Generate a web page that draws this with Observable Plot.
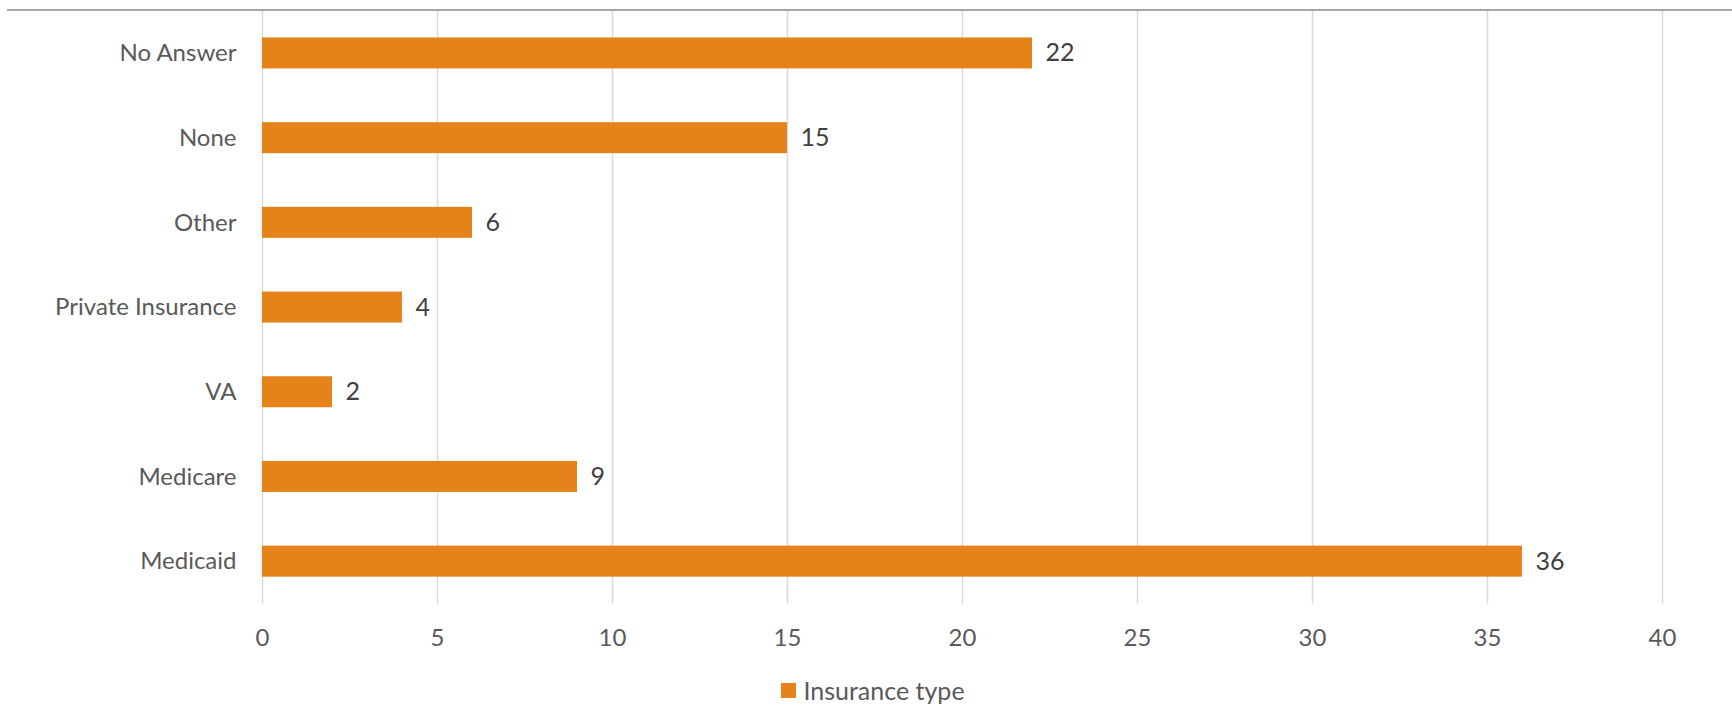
<!DOCTYPE html>
<html>
<head>
<meta charset="utf-8">
<script src="https://cdn.jsdelivr.net/npm/d3@7"></script>
<script src="https://cdn.jsdelivr.net/npm/@observablehq/plot@0.6"></script>
<style>
  html, body { margin: 0; padding: 0; background: #fff; }
  #wrap { position: relative; width: 1732px; height: 712px; font-family: Lato, "Noto Sans", sans-serif; }
  #topline { position: absolute; left: 7px; right: 0; top: 9px; height: 0; border-top: 2px solid #a6a6a6; }
  #legend { display: flex; justify-content: center; align-items: center; height: 50px; padding-left: 14px; box-sizing: border-box; width: 1732px;
            font-size: 25px; color: #595959; }
  #legend .sw { width: 15px; height: 15px; margin-right: 7px; }
</style>
</head>
<body>
<div id="wrap">
  <div id="chart"></div>
  <div id="legend"></div>
  <div id="topline"></div>
</div>
<script>
const categories = ["No Answer", "None", "Other", "Private Insurance", "VA", "Medicare", "Medicaid"];
const values = [22, 15, 6, 4, 2, 9, 36];
const xTicks = [0, 5, 10, 15, 20, 25, 30, 35, 40];
const seriesName = "Insurance type";
const barColor = "#E5831A";

const data = categories.map((c, i) => ({category: c, value: values[i]}));

const chart = Plot.plot({
  width: 1732,
  height: 665,
  marginLeft: 262,
  marginRight: 70,
  marginTop: 10.6,
  marginBottom: 61.5,
  style: {fontFamily: "Lato, 'Noto Sans', sans-serif", fontSize: "24px", color: "#595959", background: "#fff"},
  x: {domain: [0, 40], ticks: xTicks, label: null, grid: false},
  y: {domain: categories, paddingInner: 0.634, paddingOuter: 0.317, round: false, label: null},
  marks: [
    Plot.gridX(xTicks, {stroke: "#d9d9d9", strokeOpacity: 1, strokeWidth: 1.5}),
    Plot.barX(data, {x: "value", y: "category", fill: barColor}),
    Plot.text(data, {x: "value", y: "category", text: d => String(d.value), dx: 13, textAnchor: "start", fill: "#404040", fontSize: 25}),
    Plot.axisX(xTicks, {tickSize: 0, tickPadding: 25, fill: "#595959", fontSize: 24, label: null}),
    Plot.axisY({tickSize: 0, tickPadding: 26, fill: "#595959", fontSize: 24, label: null})
  ]
});
document.getElementById("chart").appendChild(chart);

const legend = document.getElementById("legend");
const sw = document.createElement("div");
sw.className = "sw";
sw.style.background = barColor;
const lt = document.createElement("span");
lt.textContent = seriesName;
legend.appendChild(sw);
legend.appendChild(lt);
</script>
</body>
</html>
